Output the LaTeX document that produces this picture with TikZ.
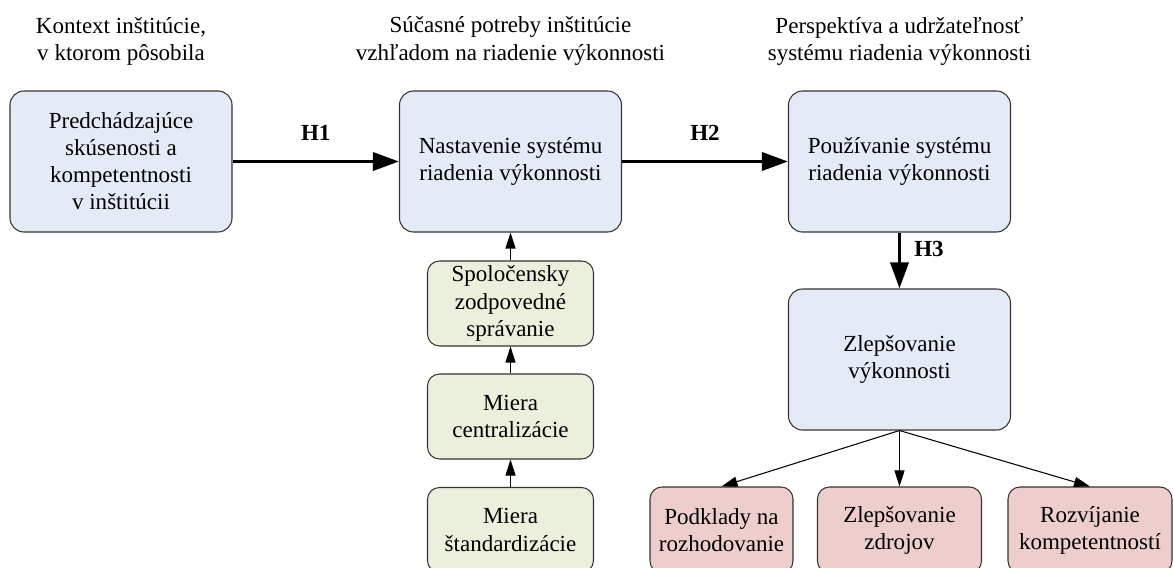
\documentclass[tikz,border=0pt]{standalone}
\usepackage{fontspec}
\setmainfont{Liberation Serif}
\usetikzlibrary{arrows.meta}
\definecolor{boxblue}{RGB}{229,235,246}
\definecolor{boxgreen}{RGB}{235,240,221}
\definecolor{boxred}{RGB}{237,206,205}
\newcommand\diagfont{\fontsize{13.1}{15.4}\selectfont}

\begin{document}
\begin{tikzpicture}[
	font=\diagfont,
	mainbox/.style={draw=black!80, line width=0.6pt, rounded corners=0.28cm, fill=boxblue, minimum width=4.44cm, minimum height=2.82cm, align=center, inner sep=1pt},
	factorbox/.style={draw=black!80, line width=0.6pt, rounded corners=0.24cm, fill=boxgreen, minimum width=3.32cm, minimum height=1.7cm, align=center, inner sep=1pt},
	outcomebox/.style={draw=black!80, line width=0.6pt, rounded corners=0.24cm, fill=boxred, minimum width=3.28cm, minimum height=1.72cm, align=center, inner sep=1pt},
	header/.style={align=center, inner sep=0},
	hyparrow/.style={line width=2pt, -{Triangle[length=0.52cm,width=0.36cm]}},
	linkarrow/.style={line width=0.6pt, -{Triangle[length=0.32cm,width=0.2cm]}},
	hlabel/.style={font=\diagfont\bfseries, inner sep=0}]
	%frame
		\useasboundingbox (0,0) rectangle (23.46,11.34);
		\clip (0,0) rectangle (23.46,11.34);
	%column headers
		\node[header] (hprev) at (2.42,10.52) {Kontext inštitúcie,\\v ktorom pôsobila};
		\node[header] (hnast) at (10.21,10.52) {Súčasné potreby inštitúcie\\vzhľadom na riadenie výkonnosti};
		\node[header] (hpouz) at (17.99,10.52) {Perspektíva a udržateľnosť\\systému riadenia výkonnosti};
	%main boxes
		\node[mainbox] (prev) at (2.42,8.11) {Predchádzajúce\\skúsenosti a\\kompetentnosti\\v inštitúcii};
		\node[mainbox] (nast) at (10.21,8.11) {Nastavenie systému\\riadenia výkonnosti};
		\node[mainbox] (pouz) at (17.99,8.11) {Používanie systému\\riadenia výkonnosti};
		\node[mainbox] (zlep) at (17.99,4.15) {Zlepšovanie\\výkonnosti};
	%factors
		\node[factorbox] (spol) at (10.21,5.27) {Spoločensky\\zodpovedné\\správanie};
		\node[factorbox] (centr) at (10.21,3.01) {Miera\\centralizácie};
		\node[factorbox] (stand) at (10.21,0.74) {Miera\\štandardizácie};
	%outcomes
		\node[outcomebox, minimum width=2.86cm] (podk) at (14.43,0.74) {Podklady na\\rozhodovanie};
		\node[outcomebox] (zdroj) at (17.99,0.74) {Zlepšovanie\\zdrojov};
		\node[outcomebox] (rozv) at (21.8,0.74) {Rozvíjanie\\kompetentností};
	%hypotheses
		\draw[hyparrow] (prev) -- node[hlabel, above=0.39cm] {H1} (nast);
		\draw[hyparrow] (nast) -- node[hlabel, above=0.39cm] {H2} (pouz);
		\draw[hyparrow] (pouz) -- node[hlabel, pos=0.3, right=0.26cm] {H3} (zlep);
	%factor chain
		\draw[linkarrow] (stand) -- (centr);
		\draw[linkarrow] (centr) -- (spol);
		\draw[linkarrow] (spol) -- (nast);
	%outcome links
		\draw[linkarrow] (zlep.south) -- (podk.north);
		\draw[linkarrow] (zlep) -- (zdroj);
		\draw[linkarrow] (zlep.south) -- (rozv.north);
\end{tikzpicture}
\end{document}
